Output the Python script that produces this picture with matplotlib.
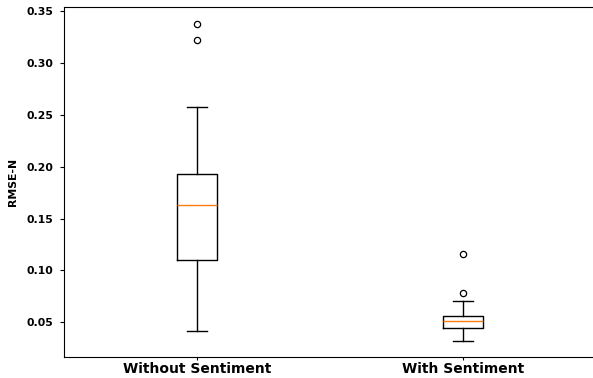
import matplotlib
matplotlib.use("Agg")
import matplotlib.pyplot as plt

plt.rcParams["font.family"] = ["DejaVu Sans"]

# values
labels = ["Without Sentiment", "With Sentiment"]
medians = [0.1636, 0.0510]
q1s = [0.1097, 0.0445]
q3s = [0.1934, 0.0558]
whislo = [0.0416, 0.0323]
whishi = [0.2576, 0.0705]
fliers = [[0.3379, 0.3225], [0.1155, 0.0782]]
yticks = [0.05, 0.10, 0.15, 0.20, 0.25, 0.30, 0.35]

stats = []
for i in range(len(labels)):
    stats.append({
        "label": labels[i],
        "med": medians[i],
        "q1": q1s[i],
        "q3": q3s[i],
        "whislo": whislo[i],
        "whishi": whishi[i],
        "fliers": fliers[i],
    })

fig = plt.figure(figsize=(5.93, 3.78), dpi=100)
ax = fig.add_axes([64 / 593, 21 / 378, 532 / 593, 350 / 378])

ax.bxp(stats, showfliers=True,
       boxprops=dict(linewidth=1.0),
       whiskerprops=dict(linewidth=1.0),
       capprops=dict(linewidth=1.0),
       medianprops=dict(linewidth=1.0, color="#ff7f0e"),
       flierprops=dict(marker="o", markersize=4.5, markerfacecolor="none",
                       markeredgecolor="black", markeredgewidth=0.9))

ax.set_ylim(0.0166, 0.354)
ax.set_xlim(0.5, 2.5)
ax.set_yticks(yticks)
ax.set_yticklabels(["%.2f" % t for t in yticks], fontweight="bold", fontsize=7.8)
ax.set_xticklabels(labels, fontweight="bold", fontsize=10)
ax.tick_params(axis="y", length=2.8, width=0.8, pad=5)
ax.tick_params(axis="x", length=2.2, width=0.8, pad=1.5)
ax.set_ylabel("RMSE-N", fontweight="bold", fontsize=7.8, labelpad=6)
ax.spines["right"].set_visible(False)

fig.savefig("out.png", dpi=100)
